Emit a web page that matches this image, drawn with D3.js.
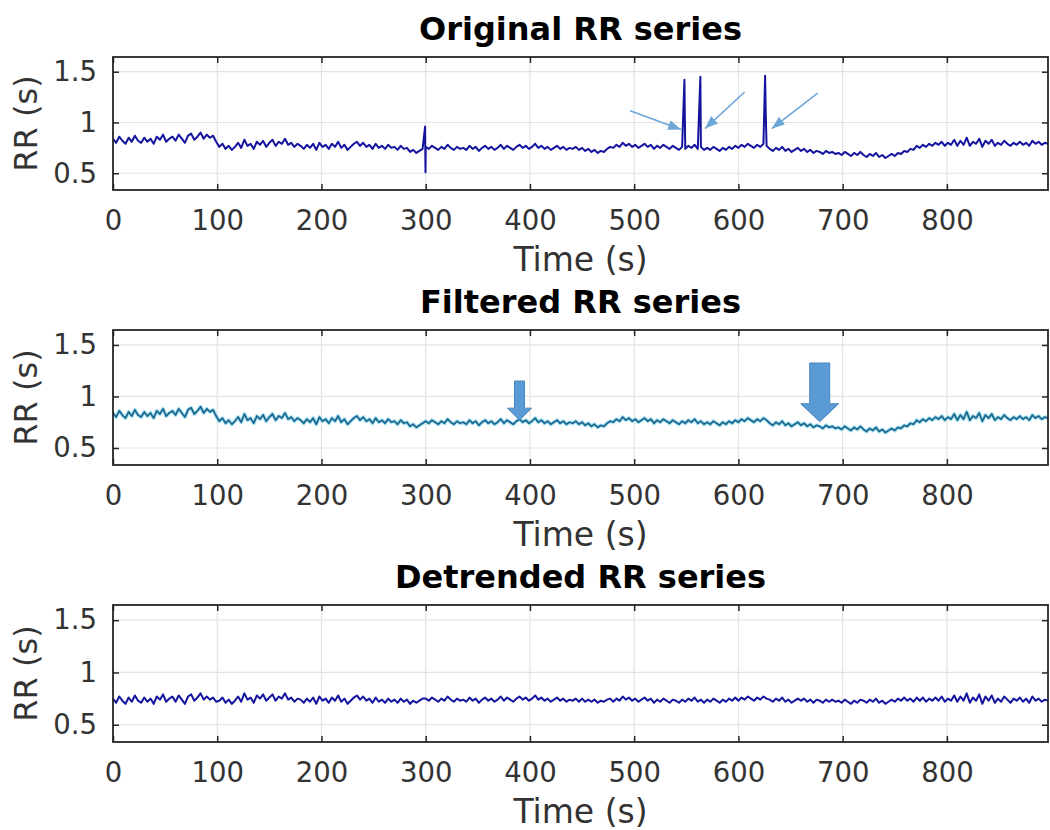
<!DOCTYPE html>
<html>
<head>
<meta charset="utf-8">
<script src="https://cdn.jsdelivr.net/npm/d3@7"></script>
<style>
  body { margin: 0; background: #fff; }
  svg { display: block; font-family: "DejaVu Sans", sans-serif; }
</style>
</head>
<body>
<div id="chart"></div>
<script>
// ---- data ----
const sampleStep = 3; // seconds between samples of the RR arrays

// filtered RR (s), one value every 3 s from t = 0 (10 values = 30 s per row)
const filteredRR = [
  0.84, 0.80, 0.86, 0.82, 0.79, 0.85, 0.81, 0.87, 0.82, 0.80,
  0.85, 0.81, 0.84, 0.79, 0.86, 0.83, 0.88, 0.81, 0.84, 0.86,
  0.82, 0.88, 0.84, 0.80, 0.87, 0.89, 0.83, 0.86, 0.90, 0.84,
  0.88, 0.85, 0.87, 0.81, 0.76, 0.79, 0.74, 0.77, 0.73, 0.76,
  0.80, 0.75, 0.83, 0.77, 0.79, 0.74, 0.81, 0.78, 0.82, 0.76,
  0.80, 0.83, 0.77, 0.81, 0.79, 0.84, 0.78, 0.80, 0.76, 0.79,
  0.77, 0.74, 0.78, 0.75, 0.79, 0.73, 0.80, 0.76, 0.78, 0.74,
  0.79, 0.76, 0.81, 0.75, 0.78, 0.73, 0.76, 0.79, 0.81, 0.77,
  0.80, 0.76, 0.78, 0.74, 0.79, 0.75, 0.77, 0.74, 0.78, 0.75,
  0.76, 0.73, 0.77, 0.74, 0.75, 0.71, 0.73, 0.70, 0.72, 0.74,
  0.76, 0.74, 0.77, 0.75, 0.73, 0.76, 0.74, 0.78, 0.75, 0.73,
  0.76, 0.74, 0.75, 0.73, 0.77, 0.74, 0.76, 0.72, 0.75, 0.77,
  0.74, 0.76, 0.73, 0.75, 0.78, 0.74, 0.77, 0.75, 0.73, 0.76,
  0.78, 0.75, 0.77, 0.74, 0.76, 0.79, 0.75, 0.77, 0.74, 0.76,
  0.73, 0.75, 0.77, 0.74, 0.76, 0.73, 0.75, 0.74, 0.76, 0.73,
  0.75, 0.72, 0.74, 0.71, 0.73, 0.70, 0.72, 0.71, 0.74, 0.76,
  0.75, 0.78, 0.76, 0.80, 0.77, 0.79, 0.76, 0.78, 0.75, 0.77,
  0.79, 0.76, 0.78, 0.74, 0.77, 0.75, 0.78, 0.76, 0.74, 0.77,
  0.75, 0.73, 0.76, 0.74, 0.77, 0.75, 0.78, 0.74, 0.76, 0.73,
  0.75, 0.73, 0.76, 0.74, 0.72, 0.75, 0.73, 0.76, 0.74, 0.77,
  0.75, 0.78, 0.76, 0.79, 0.77, 0.75, 0.78, 0.76, 0.79, 0.77,
  0.74, 0.72, 0.75, 0.73, 0.76, 0.72, 0.74, 0.71, 0.73, 0.75,
  0.72, 0.74, 0.71, 0.73, 0.70, 0.72, 0.71, 0.69, 0.72, 0.70,
  0.71, 0.69, 0.70, 0.68, 0.71, 0.69, 0.67, 0.70, 0.68, 0.71,
  0.68, 0.66, 0.69, 0.67, 0.70, 0.66, 0.68, 0.65, 0.67, 0.69,
  0.67, 0.70, 0.69, 0.72, 0.71, 0.74, 0.73, 0.77, 0.75, 0.78,
  0.76, 0.79, 0.77, 0.80, 0.78, 0.81, 0.77, 0.80, 0.78, 0.83,
  0.77, 0.82, 0.78, 0.85, 0.77, 0.81, 0.79, 0.84, 0.76, 0.82,
  0.79, 0.83, 0.77, 0.80, 0.78, 0.82, 0.79, 0.77, 0.80, 0.78,
  0.81, 0.78, 0.80, 0.77, 0.82, 0.79, 0.81, 0.78, 0.80, 0.79
];

// detrended RR (s), same sampling
const detrendedRR = [
  0.75, 0.71, 0.77, 0.73, 0.70, 0.76, 0.72, 0.78, 0.73, 0.71,
  0.76, 0.72, 0.75, 0.70, 0.77, 0.74, 0.79, 0.72, 0.75, 0.77,
  0.72, 0.78, 0.74, 0.70, 0.77, 0.79, 0.73, 0.76, 0.80, 0.74,
  0.77, 0.74, 0.76, 0.72, 0.73, 0.76, 0.71, 0.74, 0.70, 0.73,
  0.77, 0.72, 0.80, 0.74, 0.76, 0.71, 0.78, 0.75, 0.79, 0.73,
  0.76, 0.79, 0.73, 0.77, 0.75, 0.80, 0.74, 0.76, 0.72, 0.75,
  0.74, 0.71, 0.75, 0.72, 0.76, 0.70, 0.77, 0.73, 0.75, 0.71,
  0.76, 0.73, 0.78, 0.72, 0.75, 0.70, 0.73, 0.76, 0.78, 0.74,
  0.77, 0.73, 0.75, 0.71, 0.76, 0.72, 0.74, 0.71, 0.75, 0.72,
  0.74, 0.71, 0.75, 0.72, 0.74, 0.70, 0.73, 0.71, 0.73, 0.75,
  0.75, 0.73, 0.76, 0.74, 0.72, 0.75, 0.73, 0.77, 0.74, 0.72,
  0.75, 0.73, 0.74, 0.72, 0.76, 0.73, 0.75, 0.71, 0.74, 0.76,
  0.73, 0.75, 0.72, 0.74, 0.77, 0.73, 0.76, 0.74, 0.72, 0.75,
  0.77, 0.74, 0.76, 0.73, 0.75, 0.78, 0.74, 0.76, 0.73, 0.75,
  0.72, 0.74, 0.76, 0.73, 0.75, 0.72, 0.74, 0.73, 0.75, 0.72,
  0.75, 0.72, 0.74, 0.72, 0.74, 0.71, 0.73, 0.72, 0.74, 0.75,
  0.72, 0.75, 0.73, 0.77, 0.74, 0.76, 0.73, 0.75, 0.72, 0.74,
  0.76, 0.73, 0.75, 0.71, 0.74, 0.72, 0.75, 0.73, 0.71, 0.74,
  0.73, 0.71, 0.74, 0.72, 0.75, 0.73, 0.76, 0.72, 0.74, 0.71,
  0.74, 0.72, 0.75, 0.73, 0.71, 0.74, 0.72, 0.75, 0.73, 0.76,
  0.73, 0.76, 0.74, 0.77, 0.75, 0.73, 0.76, 0.74, 0.77, 0.75,
  0.74, 0.72, 0.75, 0.73, 0.76, 0.72, 0.74, 0.71, 0.73, 0.75,
  0.73, 0.75, 0.72, 0.74, 0.71, 0.74, 0.73, 0.71, 0.74, 0.72,
  0.74, 0.72, 0.73, 0.71, 0.74, 0.72, 0.70, 0.73, 0.71, 0.74,
  0.73, 0.71, 0.74, 0.72, 0.75, 0.71, 0.73, 0.70, 0.72, 0.74,
  0.72, 0.75, 0.73, 0.76, 0.73, 0.75, 0.72, 0.76, 0.73, 0.76,
  0.72, 0.75, 0.73, 0.76, 0.73, 0.77, 0.72, 0.75, 0.73, 0.78,
  0.72, 0.77, 0.73, 0.80, 0.71, 0.76, 0.73, 0.79, 0.70, 0.77,
  0.73, 0.78, 0.71, 0.75, 0.72, 0.77, 0.74, 0.71, 0.75, 0.73,
  0.76, 0.72, 0.75, 0.71, 0.77, 0.73, 0.75, 0.72, 0.74, 0.73
];

// ectopic / artefact beats present only in the original series
const ectopicTimes = [299.4, 299.8, 548.2, 548.6, 563.5, 625.6, 626.2];
const ectopicRR    = [0.96, 0.51, 1.42, 1.07, 1.45, 1.46, 1.10];

// axis ticks
const xTicks = [0, 100, 200, 300, 400, 500, 600, 700, 800];
const yTicks = [0.5, 1, 1.5];
const yTickLabels = ["0.5", "1", "1.5"];
const xDomain = [0, 897];
const yDomain = [0.335, 1.645];

// annotation arrows in panel 1 (data coords): [t0, v0, t1, v1]
const thinArrows = [
  [496, 1.115, 545, 0.93],
  [606, 1.30, 568, 0.94],
  [676, 1.29, 632, 0.94]
];
// block arrows in panel 2: centre time, top value, tip value
const blockArrowT   = [390, 678];
const blockArrowTop = [1.15, 1.325];
const blockArrowTip = [0.77, 0.755];

const titles = ["Original RR series", "Filtered RR series", "Detrended RR series"];

// ---- layout ----
const W = 1050, H = 830;
const left = 113, right = 1048;
const panels = [
  { top: 57,  bottom: 190 },
  { top: 330, bottom: 465 },
  { top: 605, bottom: 742 }
];
const textColor = "#262626";
const blockSize = [{ sw: 5, hw: 12, hl: 12 }, { sw: 10, hw: 19, hl: 18 }];

const svg = d3.select("#chart").append("svg")
  .attr("width", W).attr("height", H);

const defs = svg.append("defs");
defs.append("marker")
  .attr("id", "thin-head")
  .attr("markerUnits", "userSpaceOnUse")
  .attr("markerWidth", 14).attr("markerHeight", 11)
  .attr("refX", 13).attr("refY", 5)
  .attr("orient", "auto")
  .append("path")
  .attr("d", "M0,0 L13,5 L0,10 Z")
  .attr("fill", "#6ea6d8");

// build series
const filteredPts = filteredRR.map((v, i) => ({ t: i * sampleStep, v }));
const detrendedPts = detrendedRR.map((v, i) => ({ t: i * sampleStep, v }));
const originalPts = filteredPts
  .concat(ectopicTimes.map((t, i) => ({ t, v: ectopicRR[i] })))
  .sort((a, b) => a.t - b.t);

const x = d3.scaleLinear().domain(xDomain).range([left, right]);

function drawPanel(p, idx) {
  const y = d3.scaleLinear().domain(yDomain).range([p.bottom, p.top]);
  const g = svg.append("g");
  const h = p.bottom - p.top;

  g.append("defs").append("clipPath").attr("id", "clip" + idx)
    .append("rect").attr("x", left).attr("y", p.top)
    .attr("width", right - left).attr("height", h);

  // grid
  g.append("g").selectAll("line").data(xTicks).join("line")
    .attr("x1", d => x(d)).attr("x2", d => x(d))
    .attr("y1", p.top).attr("y2", p.bottom)
    .attr("stroke", "#e3e3e3").attr("stroke-width", 1.2);
  g.append("g").selectAll("line").data(yTicks).join("line")
    .attr("x1", left).attr("x2", right)
    .attr("y1", d => y(d)).attr("y2", d => y(d))
    .attr("stroke", "#e3e3e3").attr("stroke-width", 1.2);

  // axes (ticks inward)
  const xAxis = g.append("g")
    .attr("transform", `translate(0,${p.bottom})`)
    .call(d3.axisBottom(x).tickValues(xTicks).tickSize(-6).tickPadding(20).tickFormat(d3.format("d")));
  const xAxisTop = g.append("g")
    .attr("transform", `translate(0,${p.top})`)
    .call(d3.axisTop(x).tickValues(xTicks).tickSize(-6).tickFormat(""));
  const yAxis = g.append("g")
    .attr("transform", `translate(${left},0)`)
    .call(d3.axisLeft(y).tickValues(yTicks).tickSize(-6).tickPadding(16)
      .tickFormat((d, i) => yTickLabels[i]));
  const yAxisRight = g.append("g")
    .attr("transform", `translate(${right},0)`)
    .call(d3.axisRight(y).tickValues(yTicks).tickSize(-6).tickFormat(""));

  [xAxis, xAxisTop, yAxis, yAxisRight].forEach(a => {
    a.select(".domain").remove();
    a.selectAll(".tick line").attr("stroke", textColor).attr("stroke-width", 1.5);
    a.selectAll(".tick text")
      .attr("fill", "#333")
      .style("font-family", "DejaVu Sans")
      .style("font-size", "27.5px");
  });

  // series
  const line = d3.line().x(d => x(d.t)).y(d => y(d.v));
  const plot = g.append("g").attr("clip-path", `url(#clip${idx})`);
  if (idx === 0) {
    plot.append("path").datum(originalPts)
      .attr("d", line).attr("fill", "none")
      .attr("stroke", "#14149e").attr("stroke-width", 2)
      .attr("stroke-linejoin", "round");
  } else if (idx === 1) {
    plot.append("path").datum(filteredPts)
      .attr("d", line).attr("fill", "none")
      .attr("stroke", "#8fdcef").attr("stroke-width", 4)
      .attr("stroke-opacity", 0.7).attr("stroke-linejoin", "round");
    plot.append("path").datum(filteredPts)
      .attr("d", line).attr("fill", "none")
      .attr("stroke", "#1d6890").attr("stroke-width", 1.8)
      .attr("stroke-linejoin", "round");
  } else {
    plot.append("path").datum(detrendedPts)
      .attr("d", line).attr("fill", "none")
      .attr("stroke", "#14149e").attr("stroke-width", 2)
      .attr("stroke-linejoin", "round");
  }

  // box
  g.append("rect")
    .attr("x", left).attr("y", p.top)
    .attr("width", right - left).attr("height", h)
    .attr("fill", "none").attr("stroke", textColor).attr("stroke-width", 1.8);

  // annotations
  if (idx === 0) {
    g.append("g").selectAll("line").data(thinArrows).join("line")
      .attr("x1", d => x(d[0])).attr("y1", d => y(d[1]))
      .attr("x2", d => x(d[2])).attr("y2", d => y(d[3]))
      .attr("stroke", "#6ea6d8").attr("stroke-width", 1.6)
      .attr("marker-end", "url(#thin-head)");
  }
  if (idx === 1) {
    g.append("g").selectAll("path").data(blockArrowT).join("path")
      .attr("d", (t, i) => {
        const cx = x(t), yTop = y(blockArrowTop[i]), yTip = y(blockArrowTip[i]);
        const s = blockSize[i];
        return `M${cx - s.sw},${yTop} L${cx + s.sw},${yTop} L${cx + s.sw},${yTip - s.hl} ` +
          `L${cx + s.hw},${yTip - s.hl} L${cx},${yTip} L${cx - s.hw},${yTip - s.hl} ` +
          `L${cx - s.sw},${yTip - s.hl} Z`;
      })
      .attr("fill", "#5b9bd5").attr("stroke", "#4a86bf").attr("stroke-width", 1);
  }

  // title and labels
  const cxMid = (left + right) / 2;
  g.append("text")
    .attr("x", cxMid).attr("y", p.top - 17)
    .attr("text-anchor", "middle")
    .style("font-size", "32px").style("font-weight", "bold")
    .attr("fill", "#000")
    .text(titles[idx]);
  g.append("text")
    .attr("x", cxMid).attr("y", p.bottom + 81)
    .attr("text-anchor", "middle")
    .style("font-size", "33px")
    .attr("fill", "#333")
    .text("Time (s)");
  g.append("text")
    .attr("transform", `translate(37,${(p.top + p.bottom) / 2}) rotate(-90)`)
    .attr("text-anchor", "middle")
    .style("font-size", "32px")
    .attr("fill", "#333")
    .text("RR (s)");
}

panels.forEach(drawPanel);
</script>
</body>
</html>
